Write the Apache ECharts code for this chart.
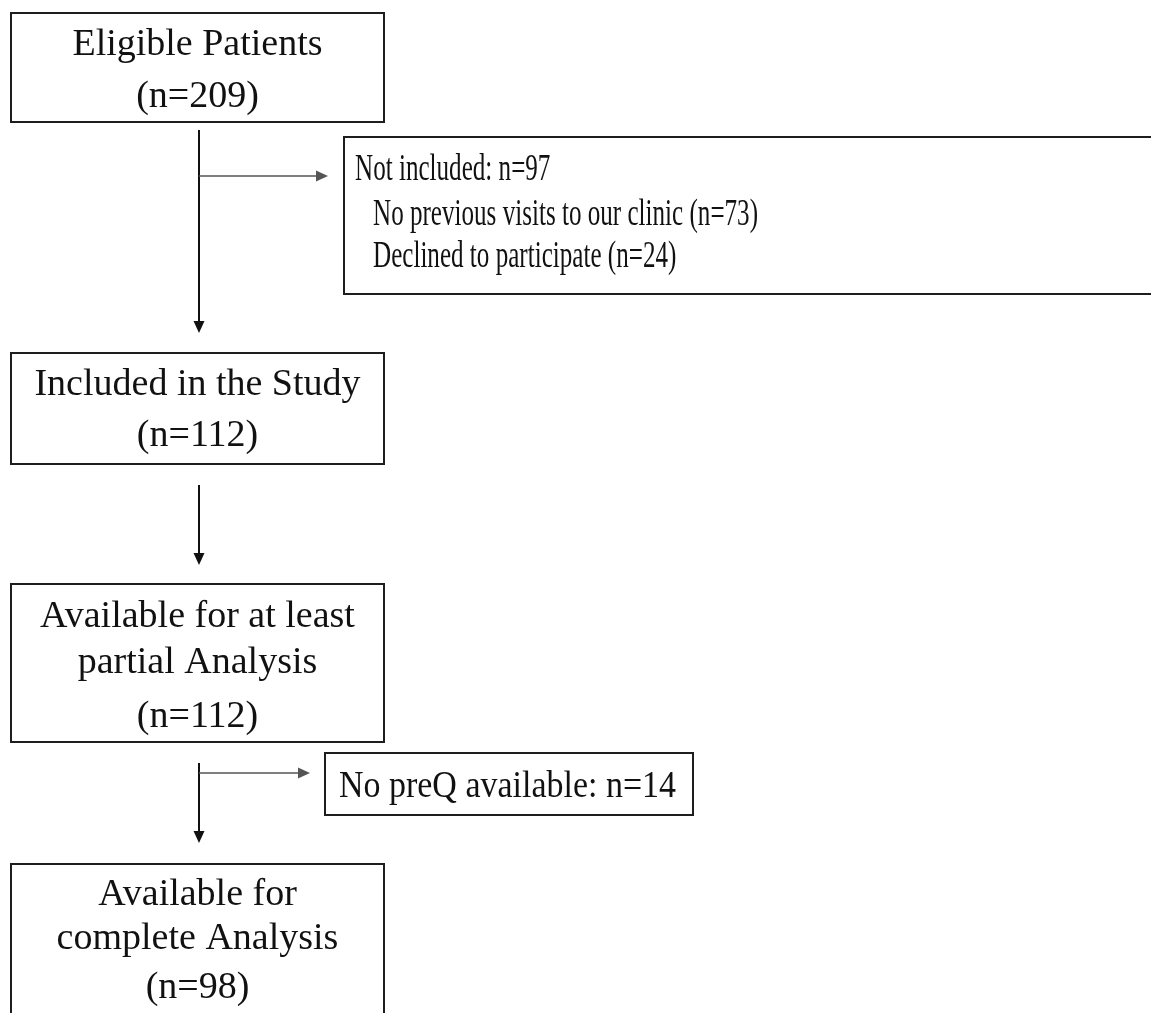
<!DOCTYPE html>
<html>
<head>
<meta charset="utf-8">
<script src="https://cdn.jsdelivr.net/npm/echarts@6/dist/echarts.min.js"></script>
<style>html,body{margin:0;padding:0;background:#fff;}#chart{width:1151px;height:1013px;}</style>
</head>
<body>
<div id="chart"></div>
<script>
// ---- data ----
const stageTitles = ['Eligible Patients', 'Included in the Study', 'Available for at least\npartial Analysis', 'Available for\ncomplete Analysis'];
const stageCounts = [209, 112, 112, 98];
const exclusionTitles = ['Not included', 'No preQ available'];
const exclusionCounts = [97, 14];
const notIncludedReasons = ['No previous visits to our clinic', 'Declined to participate'];
const notIncludedReasonCounts = [73, 24];

// ---- layout ----
const FONT = '"Liberation Serif", "Times New Roman", serif';
const FS = 38;
const INK = '#1e1e1e';
const stageBoxes = [
  {x: 11, y: 13, w: 373, h: 109, lineY: [45, 97]},
  {x: 11, y: 353, w: 373, h: 111, lineY: [385, 436]},
  {x: 11, y: 584, w: 373, h: 158, lineY: [617, 663, 717]},
  {x: 11, y: 864, w: 373, h: 170, lineY: [895, 939, 988]}
];
const cx = 197.5;
const trunkX = 199;

const mctx = document.createElement('canvas').getContext('2d');
mctx.font = FS + 'px ' + FONT;
function fitScale(text, target) { return target / mctx.measureText(text).width; }

const g = [];
function rect(x, y, w, h) {
  g.push({type: 'rect', shape: {x: x, y: y, width: w, height: h},
    style: {fill: '#fff', stroke: INK, lineWidth: 2}});
}
function text(t, x, y, align, sx) {
  g.push({type: 'text', x: x, y: y, scaleX: sx || 1,
    style: {text: t, x: 0, y: 0, font: FS + 'px ' + FONT, fill: '#111',
      textAlign: align, textVerticalAlign: 'middle'}});
}
function line(x1, y1, x2, y2, color, w) {
  g.push({type: 'line', shape: {x1: x1, y1: y1, x2: x2, y2: y2},
    style: {stroke: color, lineWidth: w}});
}
function arrowDown(x, y1, y2) {
  line(x, y1, x, y2 - 10, '#111', 2);
  g.push({type: 'polygon', shape: {points: [[x - 5.5, y2 - 12], [x + 5.5, y2 - 12], [x, y2]]}, style: {fill: '#111'}});
}
function arrowRight(y, x1, x2) {
  line(x1, y, x2 - 10, y, '#555', 1.5);
  g.push({type: 'polygon', shape: {points: [[x2 - 12, y - 5.5], [x2 - 12, y + 5.5], [x2, y]]}, style: {fill: '#555'}});
}

// stage boxes
stageBoxes.forEach(function (b, i) {
  rect(b.x, b.y, b.w, b.h);
  const lines = stageTitles[i].split('\n').concat(['(n=' + stageCounts[i] + ')']);
  lines.forEach(function (l, j) { text(l, cx, b.lineY[j], 'center'); });
});

// exclusion box 1
rect(344, 137, 830, 157);
const ex1 = [exclusionTitles[0] + ': n=' + exclusionCounts[0]];
notIncludedReasons.forEach(function (r, i) { ex1.push(r + ' (n=' + notIncludedReasonCounts[i] + ')'); });
const sx1 = fitScale(ex1[1], 385);
text(ex1[0], 355, 170, 'left', sx1);
text(ex1[1], 373, 215, 'left', sx1);
text(ex1[2], 373, 257, 'left', sx1);

// exclusion box 2
rect(325, 753, 368, 62);
const ex2 = exclusionTitles[1] + ': n=' + exclusionCounts[1];
text(ex2, 339, 787, 'left', fitScale(ex2, 337));

// arrows
arrowDown(trunkX, 130, 333);
arrowRight(176, trunkX, 328);
arrowDown(trunkX, 485, 565);
arrowDown(trunkX, 763, 843);
arrowRight(773, trunkX, 310);

const chart = echarts.init(document.getElementById('chart'), null, {renderer: 'canvas'});
chart.setOption({backgroundColor: '#fff', animation: false, graphic: {elements: g}});
</script>
</body>
</html>
